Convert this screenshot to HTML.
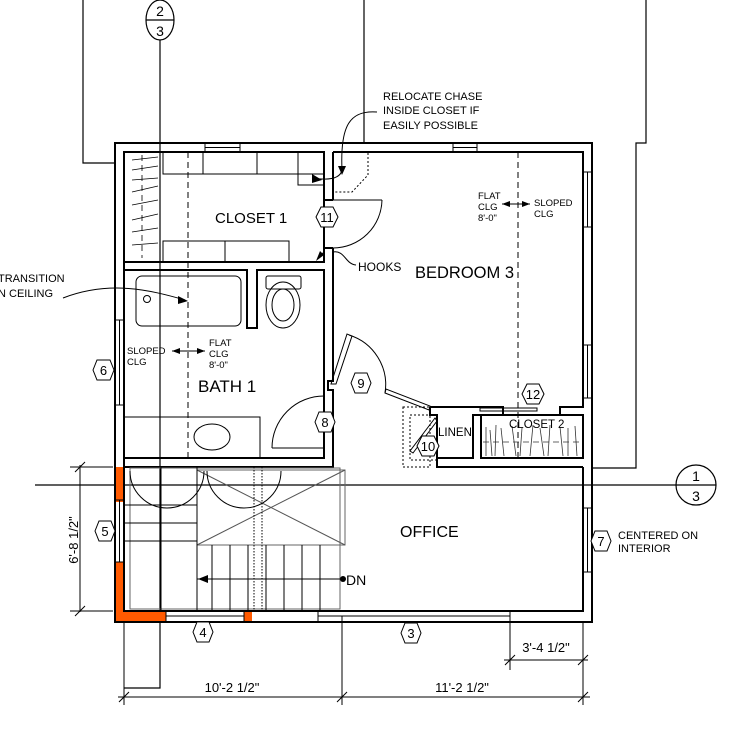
<!DOCTYPE html>
<html><head><meta charset="utf-8"><style>
html,body{margin:0;padding:0;background:#fff;}
svg{display:block;font-family:"Liberation Sans",sans-serif;}
</style></head><body>
<svg width="736" height="744" viewBox="0 0 736 744" xmlns="http://www.w3.org/2000/svg">
<g fill="none" stroke="#000" stroke-width="1.2">
<polyline points="83,0 83,163 115,163"/>
<line x1="364" y1="0" x2="364" y2="143"/>
<polyline points="646,0 646,143 636,143 636,468 592,468"/>
<line x1="35" y1="485" x2="676" y2="485"/>
<ellipse cx="160" cy="20" rx="14" ry="20"/>
<line x1="146" y1="20" x2="174" y2="20"/>
<polyline points="160,40 160,688 124,688"/>
<circle cx="696" cy="485" r="20"/>
<line x1="676" y1="485" x2="716" y2="485"/>
</g>
<text x="160" y="16" font-size="14" text-anchor="middle">2</text>
<text x="160" y="36" font-size="14" text-anchor="middle">3</text>
<text x="696" y="481" font-size="14" text-anchor="middle">1</text>
<text x="696" y="501" font-size="14" text-anchor="middle">3</text>

<g fill="#ff5a00">
<rect x="115" y="467" width="9" height="35"/>
<rect x="115" y="562" width="9" height="60"/>
<rect x="115" y="611" width="51" height="11"/>
<rect x="244" y="611" width="8" height="11"/>
</g>

<g fill="none" stroke="#000" stroke-width="2">
<rect x="115" y="143" width="477" height="479"/>
<polyline points="124,467 124,152 324,152"/>
<polyline points="333,152 583,152 583,407 560,407 560,415 583,415 583,458"/>
<polyline points="124,467 124,611 583,611 583,467"/>
<polyline points="324,152 324,200"/>
<polyline points="333,152 333,200"/>
<rect x="124" y="152" width="200" height="110"/>
<polyline points="324,248 324,262"/>
<polyline points="333,248 333,381 328,381 328,390 333,390 333,458"/>
<line x1="324" y1="200" x2="333" y2="200"/>
<line x1="324" y1="248" x2="333" y2="248"/>
<polyline points="124,270 247,270 247,328 257,328 257,270 324,270 324,458 124,458"/>
<polyline points="124,467 333,467 333,458"/>
<polyline points="430,407 503,407 503,415 473,415 473,458 437,458 437,415 430,415 430,407"/>
<rect x="481" y="415" width="102" height="43"/>
<polyline points="437,458 437,467 583,467"/>
</g>

<g fill="none" stroke="#000" stroke-width="1">
<rect x="205" y="143" width="35" height="9"/><line x1="205" y1="147.5" x2="240" y2="147.5"/>
<rect x="453" y="143" width="24" height="9"/><line x1="453" y1="147.5" x2="477" y2="147.5"/>
<rect x="583" y="172" width="9" height="55"/><line x1="587.5" y1="172" x2="587.5" y2="227"/>
<rect x="583" y="345" width="9" height="53"/><line x1="587.5" y1="345" x2="587.5" y2="398"/>
<rect x="583" y="508" width="9" height="64"/><line x1="587.5" y1="508" x2="587.5" y2="572"/>
<rect x="115" y="320" width="9" height="85"/><line x1="119.5" y1="320" x2="119.5" y2="405"/>
<rect x="115" y="500" width="9" height="62"/><line x1="119.5" y1="500" x2="119.5" y2="562"/>
<rect x="166" y="611" width="78" height="11"/><line x1="166" y1="616" x2="244" y2="616"/>
<rect x="318" y="611" width="192" height="11"/><line x1="318" y1="616" x2="510" y2="616"/>
<rect x="163" y="152" width="161" height="22"/>
<line x1="203" y1="152" x2="203" y2="174"/><line x1="257" y1="152" x2="257" y2="174"/>
<rect x="298" y="152" width="26" height="33"/>
<rect x="163" y="241" width="126" height="21"/>
<line x1="225" y1="241" x2="225" y2="262"/>
<g stroke-width="0.8">
<line x1="132" y1="160" x2="158" y2="157"/><line x1="132" y1="170" x2="158" y2="166"/>
<line x1="132" y1="180" x2="158" y2="178"/><line x1="132" y1="192" x2="158" y2="186"/>
<line x1="132" y1="205" x2="158" y2="200"/><line x1="132" y1="220" x2="158" y2="214"/>
<line x1="132" y1="232" x2="158" y2="228"/><line x1="132" y1="245" x2="158" y2="243"/>
<line x1="142" y1="155" x2="142" y2="258" stroke-dasharray="6,4"/>
</g>
<!-- closet 2 hatching -->
<g stroke-width="0.8" stroke="#333">
<line x1="483" y1="442" x2="581" y2="442" stroke-dasharray="6,4"/>
<line x1="486" y1="427" x2="486" y2="456"/><line x1="490" y1="430" x2="492" y2="456"/>
<line x1="496" y1="425" x2="495" y2="456"/><line x1="501" y1="428" x2="504" y2="456"/>
<line x1="512" y1="426" x2="516" y2="456"/><line x1="522" y1="428" x2="520" y2="456"/>
<line x1="533" y1="425" x2="530" y2="456"/><line x1="540" y1="428" x2="544" y2="456"/>
<line x1="550" y1="425" x2="548" y2="456"/><line x1="560" y1="427" x2="563" y2="456"/>
<line x1="568" y1="428" x2="568" y2="456"/><line x1="575" y1="426" x2="577" y2="456"/>
</g>
<line x1="333" y1="200" x2="382" y2="200"/>
<path d="M382,200 A49,49 0 0 1 333,248"/>
<polyline points="368,153 368,175 352,192 333,192" stroke-dasharray="2,2"/>
<rect x="136" y="276" width="105" height="50" rx="6"/>
<circle cx="147" cy="299" r="3.5"/>
<rect x="266" y="276" width="35" height="13" rx="2"/>
<ellipse cx="283" cy="305" rx="17" ry="23"/>
<ellipse cx="283" cy="305" rx="11" ry="16"/>
<rect x="124" y="417" width="136" height="41"/>
<ellipse cx="212" cy="437" rx="18" ry="13"/>
<path d="M324,396 A52,52 0 0 0 272,448"/>
<line x1="272" y1="448" x2="324" y2="448"/>
<polygon points="331,384 336,384 352,336 347,334"/>
<path d="M349,335 A52,52 0 0 1 385,393"/>
<polygon points="385,393 429,410 430,406 386,389"/>
<rect x="403" y="407" width="27" height="60" stroke-dasharray="2,2"/>
<rect x="410" y="415" width="27" height="45" stroke-dasharray="2,2"/>
<polygon points="435,418 410,451 413,453 437,421"/>
<rect x="480" y="408" width="57" height="3"/>
<rect x="130" y="468" width="210" height="141" stroke="#666"/>
<rect x="197" y="470" width="148" height="75" stroke="#666"/>
<line x1="197" y1="470" x2="345" y2="545" stroke="#555"/>
<line x1="197" y1="545" x2="345" y2="470" stroke="#555"/>
<line x1="124" y1="505" x2="197" y2="505"/>
<line x1="124" y1="523" x2="197" y2="523"/>
<line x1="124" y1="541" x2="197" y2="541"/>
<line x1="161" y1="467" x2="161" y2="611"/>
<line x1="197" y1="467" x2="197" y2="611"/>
<line x1="212" y1="545" x2="212" y2="611"/><line x1="230" y1="545" x2="230" y2="611"/>
<line x1="248" y1="545" x2="248" y2="611"/><line x1="266" y1="545" x2="266" y2="611"/>
<line x1="284" y1="545" x2="284" y2="611"/><line x1="302" y1="545" x2="302" y2="611"/>
<line x1="320" y1="545" x2="320" y2="611"/>
<line x1="254" y1="467" x2="254" y2="611" stroke-dasharray="1.5,1.5"/>
<line x1="262" y1="467" x2="262" y2="611" stroke-dasharray="1.5,1.5"/>
<line x1="197" y1="579" x2="342" y2="579"/>
<path d="M130,471 A37,37 0 0 0 204,471"/>
<path d="M207,471 A37,37 0 0 0 281,471"/>
<line x1="188" y1="152" x2="188" y2="458" stroke-dasharray="6,4"/>
<line x1="518" y1="152" x2="518" y2="458" stroke-dasharray="6,4"/>
<path d="M377,112 C350,110 340,125 342,170"/>
<path d="M342,170 C340,180 325,180 312,178"/>
<path d="M63,298 C110,280 150,290 185,300"/>
<path d="M356,265 C345,264 345,250 333,252"/>
<line x1="324" y1="252" x2="318" y2="258"/>
<line x1="80" y1="465" x2="80" y2="612"/>
<line x1="70" y1="467" x2="113" y2="467"/><line x1="70" y1="611" x2="113" y2="611"/>
<line x1="75" y1="472" x2="85" y2="462"/><line x1="75" y1="616" x2="85" y2="606"/>
<line x1="118" y1="697" x2="590" y2="697"/>
<line x1="124" y1="622" x2="124" y2="705"/>
<line x1="342" y1="616" x2="342" y2="705"/>
<line x1="583" y1="622" x2="583" y2="705"/>
<line x1="119" y1="702" x2="129" y2="692"/><line x1="337" y1="702" x2="347" y2="692"/><line x1="578" y1="702" x2="588" y2="692"/>
<line x1="504" y1="660" x2="588" y2="660"/>
<line x1="510" y1="616" x2="510" y2="670"/>
<line x1="505" y1="665" x2="515" y2="655"/><line x1="578" y1="665" x2="588" y2="655"/>
</g>
<g fill="#000">
<polygon points="338,166 346,166 342,175"/>
<polygon points="312,174 322,180 312,183"/>
<polygon points="178,296 188,301 178,304"/>
<polygon points="316,261 324,255 320,251"/>
<polygon points="198,579 208,575 208,583"/>
<circle cx="343" cy="579" r="3"/>
<polygon points="172,351 180,348 180,354"/><polygon points="205,351 197,348 197,354"/>
<polygon points="502,204 510,201 510,207"/><polygon points="530,204 522,201 522,207"/>
</g>
<g stroke="#000" stroke-width="1"><line x1="172" y1="351" x2="205" y2="351"/><line x1="502" y1="204" x2="530" y2="204"/></g>

<g fill="#fff" stroke="#000" stroke-width="1">
<polygon points="93,370 97,360 110,360 114,370 110,380 97,380"/>
<polygon points="95,531 99,521 111,521 115,531 111,541 99,541"/>
<polygon points="193,632 197,622 209,622 213,632 209,642 197,642"/>
<polygon points="401,633 405,623 417,623 421,633 417,643 405,643"/>
<polygon points="591,541 595,531 607,531 611,541 607,551 595,551"/>
<polygon points="316,217 321,207 333,207 338,217 333,227 321,227"/>
<polygon points="351,383 355,373 367,373 371,383 367,393 355,393"/>
<polygon points="315,422 319,412 331,412 335,422 331,432 319,432"/>
<polygon points="417,446 422,436 434,436 439,446 434,456 422,456"/>
<polygon points="522,394 527,384 539,384 544,394 539,404 527,404"/>
</g>
<g font-size="13" text-anchor="middle">
<text x="103.5" y="375">6</text><text x="105" y="536">5</text>
<text x="203" y="637">4</text><text x="411" y="638">3</text>
<text x="601" y="546">7</text><text x="327" y="222">11</text>
<text x="361" y="388">9</text><text x="325" y="427">8</text>
<text x="428" y="451">10</text><text x="533" y="399">12</text>
</g>

<g font-size="15">
<text x="215" y="223">CLOSET 1</text>
<text x="415" y="278" font-size="16.5">BEDROOM 3</text>
<text x="198" y="392" font-size="17">BATH 1</text>
<text x="400" y="537" font-size="16">OFFICE</text>
<text x="346" y="585" font-size="14">DN</text>
</g>
<g font-size="11">
<text x="383" y="100">RELOCATE CHASE</text>
<text x="383" y="114">INSIDE CLOSET IF</text>
<text x="383" y="129">EASILY POSSIBLE</text>
<text x="358" y="271" font-size="12">HOOKS</text>
<text x="-2" y="282">TRANSITION</text>
<text x="-2" y="297">N CEILING</text>
<text x="438" y="436" font-size="11.5">LINEN</text>
<text x="509" y="428" font-size="11.5">CLOSET 2</text>
<text x="618" y="539">CENTERED ON</text>
<text x="618" y="552">INTERIOR</text>
<text x="78" y="540" font-size="13" transform="rotate(-90 78 540)" text-anchor="middle">6'-8 1/2"</text>
<text x="232" y="692" font-size="13" text-anchor="middle">10'-2 1/2"</text>
<text x="462" y="692" font-size="13" text-anchor="middle">11'-2 1/2"</text>
<text x="546" y="652" font-size="13" text-anchor="middle">3'-4 1/2"</text>
</g>
<g font-size="9.5">
<text x="127" y="354">SLOPED</text><text x="127" y="365">CLG</text>
<text x="209" y="346">FLAT</text><text x="209" y="357">CLG</text><text x="209" y="368">8'-0"</text>
<text x="478" y="199">FLAT</text><text x="478" y="210">CLG</text><text x="478" y="221">8'-0"</text>
<text x="534" y="206">SLOPED</text><text x="534" y="217">CLG</text>
</g>
</svg>
</body></html>
